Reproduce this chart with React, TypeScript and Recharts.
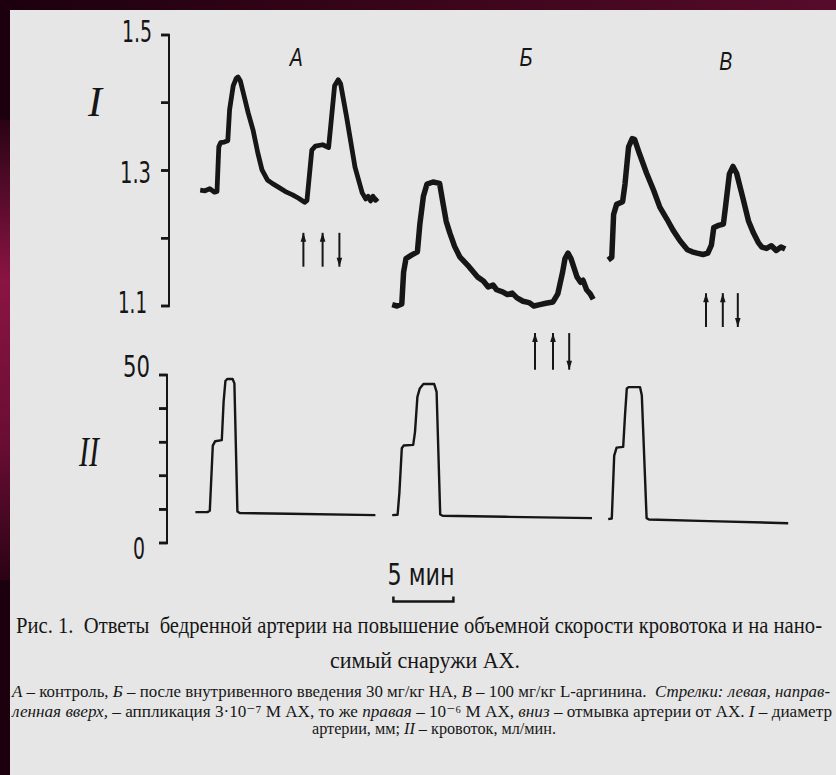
import React from 'react';
import { LineChart, Line, XAxis, YAxis, ReferenceLine, ReferenceDot } from 'recharts';

// ---- axis ticks ----
const diameterTicks = [1.1, 1.2, 1.3, 1.4, 1.5];
const diameterLabeled = [1.1, 1.3, 1.5];
const flowTicks = [0, 10, 20, 30, 40, 50];
const flowLabeled = [0, 50];

// ---- time domains (min) ----
const diameterTimeDomain: [number, number] = [0, 53];
const flowTimeDomain: [number, number] = [-2 / 12, 53 - 2 / 12];

// ---- series: [time, min; value] ----
// I – diameter, mm
const diameterA: [number, number][] = [
  [2.6, 1.271], [3.0, 1.27], [3.4, 1.273], [3.8, 1.268], [4.0, 1.269], [4.15, 1.335], [4.3, 1.341],
  [4.6, 1.342], [4.9, 1.344], [5.05, 1.39], [5.35, 1.425], [5.6, 1.436], [5.75, 1.438], [5.95, 1.432],
  [6.2, 1.414], [6.6, 1.385], [7.0, 1.36], [7.4, 1.326], [7.75, 1.301], [8.2, 1.286], [8.6, 1.281],
  [9.25, 1.274], [9.8, 1.268], [10.3, 1.264], [10.8, 1.259], [11.3, 1.253], [11.5, 1.256], [11.9, 1.33],
  [12.2, 1.336], [12.8, 1.338], [13.3, 1.334], [13.5, 1.37], [13.8, 1.425], [14.1, 1.434], [14.3, 1.428],
  [14.8, 1.379], [15.5, 1.305], [16.1, 1.267], [16.4, 1.258], [16.6, 1.262], [16.8, 1.255], [17.0, 1.262],
  [17.2, 1.256], [17.4, 1.259],
];
const diameterB: [number, number][] = [
  [18.6, 1.102], [19.0, 1.1], [19.4, 1.103], [19.55, 1.15], [19.75, 1.17], [20.2, 1.175], [20.7, 1.18],
  [20.9, 1.22], [21.2, 1.262], [21.5, 1.28], [22.0, 1.283], [22.55, 1.281], [22.85, 1.25], [23.1, 1.225],
  [23.4, 1.208], [23.8, 1.188], [24.25, 1.172], [25.0, 1.158], [25.7, 1.143], [26.2, 1.137], [26.6, 1.128],
  [27.0, 1.131], [27.3, 1.124], [27.8, 1.121], [28.2, 1.117], [28.6, 1.119], [29.0, 1.112], [29.5, 1.107],
  [30.0, 1.105], [30.4, 1.1], [30.9, 1.102], [31.4, 1.104], [32.0, 1.106], [32.4, 1.118], [32.8, 1.15],
  [33.0, 1.17], [33.25, 1.178], [33.5, 1.17], [34.0, 1.143], [34.3, 1.135], [34.5, 1.138], [34.8, 1.124],
  [35.1, 1.118], [35.35, 1.11],
];
const diameterC: [number, number][] = [
  [36.6, 1.168], [36.9, 1.172], [37.05, 1.235], [37.3, 1.25], [37.8, 1.254], [38.0, 1.28], [38.3, 1.335],
  [38.6, 1.347], [38.8, 1.346], [39.2, 1.325], [39.8, 1.296], [40.4, 1.27], [40.9, 1.246], [41.5, 1.228],
  [42.0, 1.212], [42.6, 1.196], [43.2, 1.183], [43.6, 1.18], [44.0, 1.178], [44.5, 1.176], [44.9, 1.178],
  [45.2, 1.19], [45.4, 1.216], [45.8, 1.219], [46.2, 1.221], [46.4, 1.25], [46.7, 1.295], [47.0, 1.306],
  [47.3, 1.296], [47.8, 1.261], [48.3, 1.225], [48.7, 1.208], [49.1, 1.194], [49.4, 1.187], [49.8, 1.185],
  [50.2, 1.189], [50.6, 1.182], [51.0, 1.187], [51.35, 1.184],
];

// II – blood flow, ml/min
const flowA: [number, number][] = [
  [2.2, 9.2], [3.2, 9.2], [3.4, 9.6], [3.65, 29.0], [3.85, 30.3], [4.4, 30.6], [4.55, 42], [4.7, 48.2],
  [4.85, 48.8], [5.3, 48.8], [5.45, 47.5], [5.7, 9.4], [5.9, 8.9], [10.0, 8.7], [17.2, 8.3],
];
const flowB: [number, number][] = [
  [18.6, 8.3], [19.05, 8.4], [19.2, 15], [19.4, 28.2], [19.55, 29.0], [20.35, 29.2], [20.5, 33], [20.7, 43.5],
  [20.9, 46.0], [21.2, 47.3], [22.1, 47.3], [22.3, 45], [22.6, 8.5], [22.8, 8.1], [28.0, 7.8], [35.25, 7.4],
];
const flowC: [number, number][] = [
  [36.6, 7.1], [36.9, 7.3], [37.1, 26], [37.3, 28.4], [37.85, 28.6], [38.0, 38], [38.15, 46.0], [38.3, 46.4],
  [39.25, 46.4], [39.4, 44], [39.8, 7.4], [40.0, 7.0], [45.0, 6.5], [51.6, 5.9],
];

// arrows (times, min) and their vertical span on the diameter scale
const arrowTimesA = [11.2, 12.8, 14.2];
const arrowTimesB = [30.5, 32.0, 33.35];
const arrowTimesC = [44.75, 46.15, 47.4];
const arrowSpanA: [number, number] = [1.158, 1.208];
const arrowSpanB: [number, number] = [1.006, 1.06];
const arrowSpanC: [number, number] = [1.069, 1.119];
const arrowDirs = ['up', 'up', 'down'];

// letters over the records
const recordLetters = ['А', 'Б', 'В'];
const letterTimes = [10.6, 29.75, 46.4];
const letterLevels = [1.468, 1.468, 1.462];

// time scale bar
const scaleBarStart = 18.7;
const scaleBarMinutes = 5;
const scaleBarLevel = -17.4;
const scaleBarLabel = '5 мин';
const scaleBarLabelLevel = -9.3;

const toRows = (pts: [number, number][]) => pts.map(([t, v]) => ({ t, v }));

const INK = '#161616';
const NUM_FONT = '"Liberation Sans Narrow", "DejaVu Sans Condensed", "Liberation Sans", sans-serif';
const SERIF = '"Liberation Serif", "DejaVu Serif", serif';
const TICK_SIZE = 8;

const tickStyle: Record<string, { dx: number; dy: number; len: number }> = {
  '1.5': { dx: -9, dy: 7, len: 30 },
  '1.3': { dx: -10, dy: 12, len: 31 },
  '1.1': { dx: -14, dy: 7, len: 29 },
  '50': { dx: -9, dy: 2, len: 27 },
  '0': { dx: -14, dy: 16, len: 12 },
};

const makeTick = (labeled: number[], fmt: (v: number) => string) => (props: any) => {
  const { x, y, payload } = props;
  if (!labeled.includes(payload.value)) return <g />;
  const s = fmt(payload.value);
  const st = tickStyle[s] || { dx: -12, dy: 10, len: 20 };
  return (
    <text
      x={x + st.dx}
      y={y + st.dy}
      textAnchor="end"
      fontFamily={NUM_FONT}
      fontSize={31}
      fill={INK}
      textLength={st.len}
      lengthAdjust="spacingAndGlyphs"
    >
      {s}
    </text>
  );
};

const DiameterTick = makeTick(diameterLabeled, (v) => v.toFixed(1));
const FlowTick = makeTick(flowLabeled, (v) => String(v));

// short tick mark to the left of the axis: drawn from a tiny segment starting at the axis
const tickMarkShape = (p: any) => {
  const x = Math.min(p.x1, p.x2);
  return (
    <rect x={x - TICK_SIZE} y={p.y1 - 1.25} width={TICK_SIZE + 1} height={2.5} fill={INK} stroke="none" />
  );
};

const arrowShape = (dir: string) => (p: any) => {
  const x = p.x1;
  const top = Math.min(p.y1, p.y2);
  const bottom = Math.max(p.y1, p.y2);
  const tip = dir === 'up' ? top : bottom;
  const back = dir === 'up' ? tip + 9 : tip - 9;
  return (
    <g>
      <line x1={x} x2={x} y1={top} y2={bottom} stroke={INK} strokeWidth={2} />
      <path d={`M${x},${tip} L${x - 2.8},${back} L${x + 2.8},${back} Z`} fill={INK} />
    </g>
  );
};

const scaleBarShape = (p: any) => {
  const y = p.y1;
  return (
    <path
      d={`M${p.x1},${y - 5} L${p.x1},${y} L${p.x2},${y} L${p.x2},${y - 5}`}
      stroke={INK}
      strokeWidth={2.5}
      fill="none"
    />
  );
};

const textDot = (text: string, size: number, italic: boolean, font: string, len?: number) => (p: any) => (
  <text
    x={p.cx}
    y={p.cy + size * 0.36}
    textAnchor="middle"
    fontFamily={font}
    fontSize={size}
    fontStyle={italic ? 'italic' : 'normal'}
    fill={INK}
    {...(len ? { textLength: len, lengthAdjust: 'spacingAndGlyphs' } : {})}
  >
    {text}
  </text>
);

const renderArrows = (times: number[], span: [number, number], key: string) =>
  times.map((t, i) => (
    <ReferenceLine
      key={key + i}
      segment={[{ x: t, y: span[0] }, { x: t, y: span[1] }]}
      ifOverflow="visible"
      shape={arrowShape(arrowDirs[i])}
    />
  ));

const renderTickMarks = (ticks: number[], t0: number, key: string) =>
  ticks.map((v, i) => (
    <ReferenceLine
      key={key + i}
      segment={[{ x: t0, y: v }, { x: t0 + 0.1, y: v }]}
      ifOverflow="visible"
      shape={tickMarkShape}
    />
  ));

export default function App() {
  const lineCommon = { type: 'linear' as const, dataKey: 'v', dot: false, isAnimationActive: false, stroke: INK };
  return (
    <div
      style={{
        position: 'fixed',
        left: 0,
        top: 0,
        width: 836,
        height: 775,
        overflow: 'hidden',
        background: 'linear-gradient(90deg, #1c000e 0%, #3a0519 50%, #560b2a 100%)',
      }}
    >
      <div
        style={{
          position: 'absolute',
          left: 0,
          top: 120,
          width: 12,
          height: 460,
          background: 'linear-gradient(170deg, #2a0314 0%, #8a1444 35%, #6a0d34 70%, #2a0314 100%)',
        }}
      />
      <div style={{ position: 'absolute', left: 10, top: 10, width: 826, height: 765, background: '#e6e6e6' }} />

      {/* Panel I – diameter */}
      <div style={{ position: 'absolute', left: 0, top: 0 }}>
        <LineChart width={836} height={390} margin={{ top: 35, right: 31, bottom: 84, left: 109 }}>
          <XAxis dataKey="t" type="number" domain={diameterTimeDomain} hide />
          <YAxis
            type="number"
            domain={[1.1, 1.5]}
            ticks={diameterTicks}
            interval={0}
            width={60}
            tickSize={TICK_SIZE}
            tickMargin={0}
            axisLine={{ stroke: INK, strokeWidth: 2 }}
            tickLine={{ stroke: INK, strokeWidth: 2.5 }}
            tick={DiameterTick}
          />
          {renderTickMarks(diameterTicks, diameterTimeDomain[0], 'dt')}
          <Line {...lineCommon} data={toRows(diameterA)} strokeWidth={4.8} strokeLinejoin="round" />
          <Line {...lineCommon} data={toRows(diameterB)} strokeWidth={5.5} strokeLinejoin="round" />
          <Line {...lineCommon} data={toRows(diameterC)} strokeWidth={5.5} strokeLinejoin="round" />
          {renderArrows(arrowTimesA, arrowSpanA, 'a')}
          {renderArrows(arrowTimesB, arrowSpanB, 'b')}
          {renderArrows(arrowTimesC, arrowSpanC, 'c')}
          {recordLetters.map((L, i) => (
            <ReferenceDot
              key={'L' + i}
              x={letterTimes[i]}
              y={letterLevels[i]}
              r={0}
              ifOverflow="visible"
              shape={textDot(L, 25, true, '"Liberation Sans", "DejaVu Sans", sans-serif', 13)}
            />
          ))}
        </LineChart>
      </div>

      {/* Panel II – flow */}
      <div style={{ position: 'absolute', left: 0, top: 330 }}>
        <LineChart width={836} height={290} margin={{ top: 45, right: 33, bottom: 77, left: 107 }}>
          <XAxis dataKey="t" type="number" domain={flowTimeDomain} hide />
          <YAxis
            type="number"
            domain={[0, 50]}
            ticks={flowTicks}
            interval={0}
            width={60}
            tickSize={TICK_SIZE}
            tickMargin={0}
            axisLine={{ stroke: INK, strokeWidth: 2 }}
            tickLine={{ stroke: INK, strokeWidth: 2.5 }}
            tick={FlowTick}
          />
          {renderTickMarks(flowTicks, flowTimeDomain[0], 'ft')}
          <Line {...lineCommon} data={toRows(flowA)} strokeWidth={2.4} strokeLinejoin="round" />
          <Line {...lineCommon} data={toRows(flowB)} strokeWidth={2.4} strokeLinejoin="round" />
          <Line {...lineCommon} data={toRows(flowC)} strokeWidth={2.4} strokeLinejoin="round" />
          <ReferenceLine
            segment={[
              { x: scaleBarStart, y: scaleBarLevel },
              { x: scaleBarStart + scaleBarMinutes, y: scaleBarLevel },
            ]}
            ifOverflow="visible"
            shape={scaleBarShape}
          />
          <ReferenceDot
            x={scaleBarStart + scaleBarMinutes / 2 - 0.2}
            y={scaleBarLabelLevel}
            r={0}
            ifOverflow="visible"
            shape={textDot(scaleBarLabel, 30, false, NUM_FONT, 67)}
          />
        </LineChart>
      </div>

      {/* Roman labels and caption */}
      <svg width={836} height={775} style={{ position: 'absolute', left: 0, top: 0, pointerEvents: 'none' }}>
        <text x={95} y={116} textAnchor="middle" fontFamily={SERIF} fontStyle="italic" fontSize={42} fill={INK}>
          I
        </text>
        <text
          x={89}
          y={466}
          textAnchor="middle"
          fontFamily={SERIF}
          fontStyle="italic"
          fontSize={42}
          fill={INK}
          textLength={20}
          lengthAdjust="spacingAndGlyphs"
        >
          II
        </text>

        <g fontFamily={SERIF} fill={INK}>
          <text x={16} y={633} fontSize={23} textLength={806} lengthAdjust="spacingAndGlyphs">
            {'Рис. 1.\u00a0 Ответы\u00a0 бедренной артерии на повышение объемной скорости кровотока и на нано-'}
          </text>
          <text x={330} y={668} fontSize={23} textLength={190} lengthAdjust="spacingAndGlyphs">
            симый снаружи АХ.
          </text>
          <text x={12} y={697} fontSize={16} textLength={818} lengthAdjust="spacingAndGlyphs">
            <tspan fontStyle="italic">А</tspan> – контроль, <tspan fontStyle="italic">Б</tspan> – после внутривенного
            введения 30 мг/кг НА, <tspan fontStyle="italic">В</tspan> – 100 мг/кг L-аргинина.{'\u00a0 '}
            <tspan fontStyle="italic">Стрелки: левая, направ-</tspan>
          </text>
          <text x={12} y={717} fontSize={16} textLength={820} lengthAdjust="spacingAndGlyphs">
            <tspan fontStyle="italic">ленная вверх,</tspan> – аппликация 3·10⁻⁷ М АХ, то же{' '}
            <tspan fontStyle="italic">правая</tspan> – 10⁻⁶ М АХ, <tspan fontStyle="italic">вниз</tspan> – отмывка
            артерии от АХ. <tspan fontStyle="italic">I</tspan> – диаметр
          </text>
          <text x={312} y={734} fontSize={16} textLength={244} lengthAdjust="spacingAndGlyphs">
            артерии, мм; <tspan fontStyle="italic">II</tspan> – кровоток, мл/мин.
          </text>
        </g>
      </svg>
    </div>
  );
}
